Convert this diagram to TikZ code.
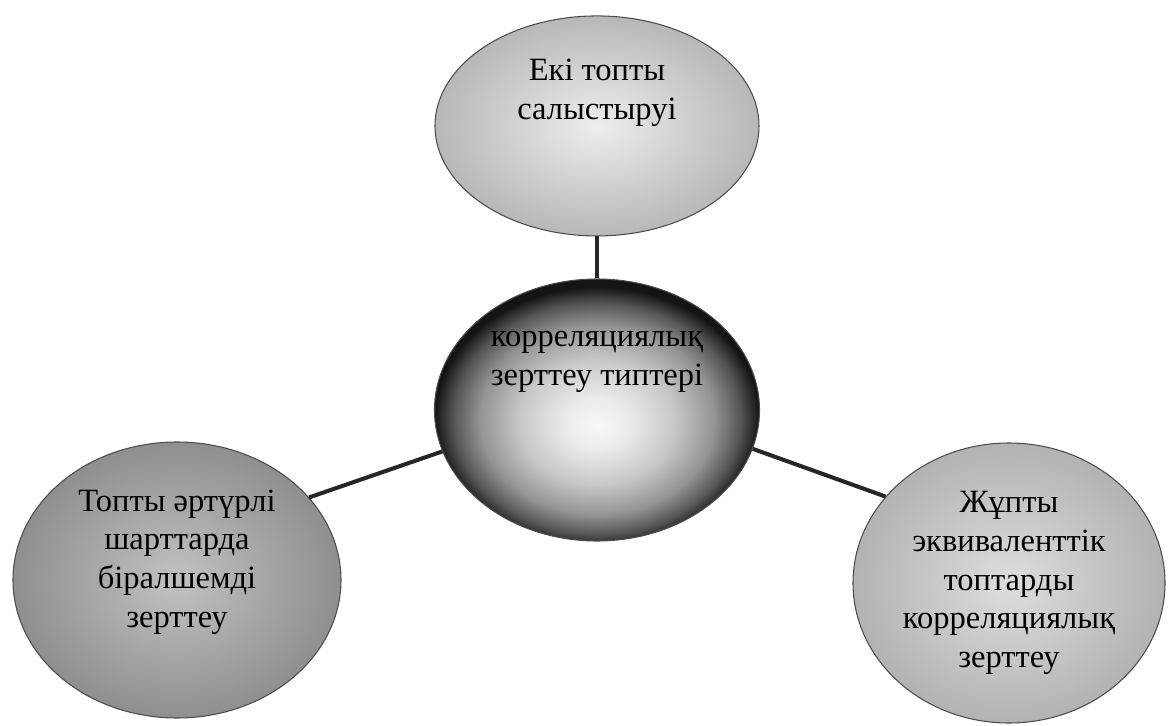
\documentclass[tikz,border=0pt]{standalone}
\usepackage{fontspec}
\setmainfont{Liberation Serif}
\newfontfamily\kzserif{Liberation Serif}
\usepackage{tikz}
\usetikzlibrary{positioning, shapes.geometric}

% dark rim, light spot a little below the middle
\pgfdeclareradialshading{corehalo}{\pgfpoint{0bp}{-3bp}}{%
  color(0bp)=(black!3); color(5bp)=(black!8); color(12bp)=(black!22);
  color(18bp)=(black!42); color(22bp)=(black!66); color(25bp)=(black!92); color(50bp)=(black!92)}

\begin{document}
\begin{tikzpicture}[
    node distance=0.84cm,
    % Define styles for the bubbles
    bubble/.style={ellipse, draw=black!70, line width=0.6pt, inner sep=0pt},
    lbl/.style={align=center, text=black, font=\kzserif\fontsize{18.5}{22}\selectfont},
    link/.style={line width=2.3pt, draw=black!85}
]

\path[use as bounding box, fill=white] (-11.94,-6.32) rectangle (11.44,8.2);

% --- Nodes ---

% Centre
\node[bubble, shade, shading=corehalo, minimum width=6.5cm, minimum height=5.24cm,
      label={[lbl, yshift=0.96cm]center:корреляциялық\\зерттеу типтері}] (centre) at (0,0) {};

% Top
\node[bubble, inner color=black!7, outer color=black!28, minimum width=6.48cm, minimum height=4.4cm,
      above=of centre, label={[lbl, yshift=0.66cm]center:Екі топты\\салыстыруі}] (top) {};

% Left
\node[bubble, inner color=black!24, outer color=black!44, minimum width=6.56cm, minimum height=5.52cm,
      label={[lbl, yshift=0.36cm]center:Топты әртүрлі\\шарттарда\\біралшемді\\зерттеу}] (left) at (-8.4,-3.4) {};

% Right
\node[bubble, inner color=black!13, outer color=black!30, minimum width=6.24cm, minimum height=5.6cm,
      label={[lbl]center:Жұпты\\эквиваленттік\\топтарды\\корреляциялық\\зерттеу}] (right) at (8.24,-3.46) {};

% --- Connectors ---
\draw[link] (top.south) -- (centre.north);
\draw[link] (left.32) -- (centre.195);
\draw[link] (centre.346) -- (right.145);

\end{tikzpicture}
\end{document}
